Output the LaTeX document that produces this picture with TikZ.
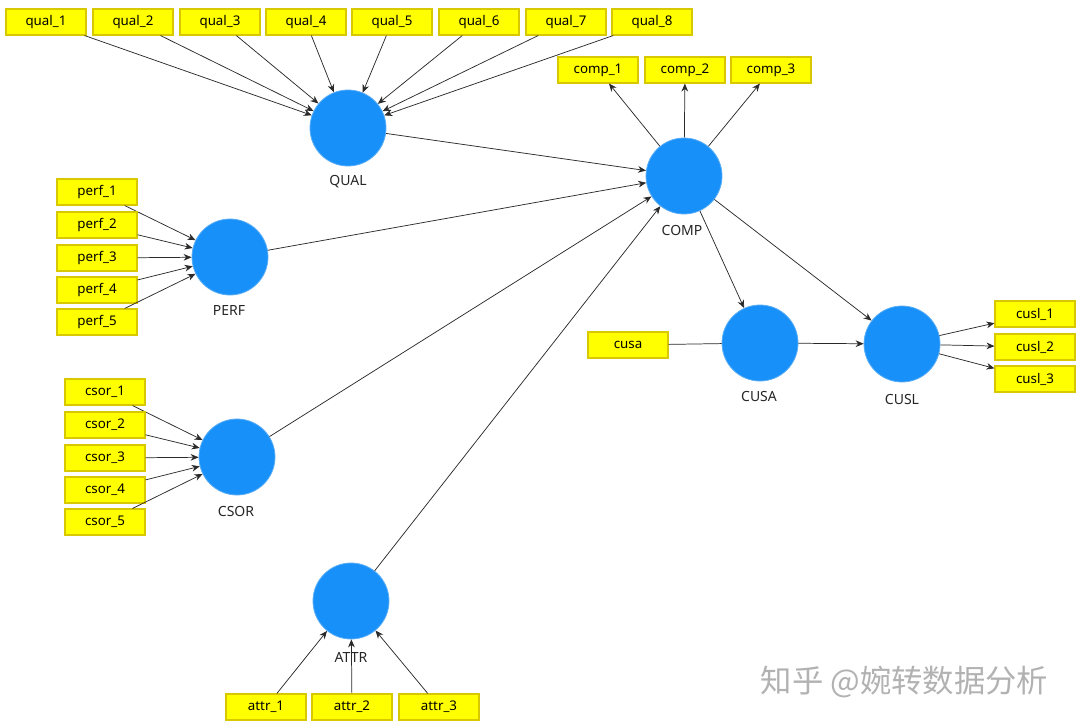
\documentclass[tikz,border=0pt]{standalone}
\usepackage{fontspec}
\setmainfont{Noto Sans}
\newfontfamily\cjkfont{Noto Sans CJK SC}
\usetikzlibrary{arrows.meta}
\definecolor{boxfill}{HTML}{FFFF00}
\definecolor{boxline}{HTML}{D8C800}
\definecolor{lvfill}{HTML}{1890FA}
\definecolor{lvline}{HTML}{5AAEF5}
\definecolor{edge}{HTML}{2A2A2A}
\tikzset{
  ind/.style={draw=boxline, fill=boxfill, line width=0.8pt, minimum width=60pt, minimum height=19.5pt, inner sep=0pt, font=\fontsize{10}{12}\selectfont},
  lv/.style={circle, draw=lvline, fill=lvfill, line width=0.6pt, minimum size=57pt, inner sep=0pt},
  lvlab/.style={font=\fontsize{10.5}{12}\selectfont, text=black!85},
  arr/.style={draw=edge, line width=0.55pt, -{Stealth[length=6pt,width=5pt]}},
  plain/.style={draw=edge, line width=0.55pt}
}
\begin{document}
\begin{tikzpicture}[x=0.75pt,y=-0.75pt]
\useasboundingbox (0,0) rectangle (1080,725);
\fill[white] (0,0) rectangle (1080,725);
% latent variables
\node[lv] (QUAL) at (348,128) {};
\node[lvlab] (QUALl) at (348,182) {QUAL};
\node[lv] (COMP) at (684,176) {};
\node[lvlab] (COMPl) at (682,230) {COMP};
\node[lv] (PERF) at (230,257) {};
\node[lvlab] (PERFl) at (229,310) {PERF};
\node[lv] (CSOR) at (237,457) {};
\node[lvlab] (CSORl) at (236,511) {CSOR};
\node[lv] (ATTR) at (351,601) {};
\node[lvlab] (ATTRl) at (351,657) {ATTR};
\node[lv] (CUSA) at (760,343) {};
\node[lvlab] (CUSAl) at (759,396) {CUSA};
\node[lv] (CUSL) at (902,344) {};
\node[lvlab] (CUSLl) at (902,399) {CUSL};
% indicators
\foreach \i/\x in {1/46,2/133,3/220,4/306,5/392,6/479,7/566,8/652}{
  \node[ind] (qual\i) at (\x,22) {qual\_\i};
  \draw[arr] (qual\i) -- (QUAL);
}
\foreach \i/\x in {1/598,2/685,3/771}{
  \node[ind] (comp\i) at (\x,70) {comp\_\i};
  \draw[arr] (COMP) -- (comp\i);
}
\foreach \i/\y in {1/192,2/225,3/258,4/290,5/322}{
  \node[ind] (perf\i) at (97,\y) {perf\_\i};
  \draw[arr] (perf\i) -- (PERF);
}
\foreach \i/\y in {1/392,2/425,3/458,4/490,5/522}{
  \node[ind] (csor\i) at (105,\y) {csor\_\i};
  \draw[arr] (csor\i) -- (CSOR);
}
\foreach \i/\x in {1/266,2/352,3/439}{
  \node[ind] (attr\i) at (\x,707) {attr\_\i};
  \draw[arr] (attr\i) -- (ATTR);
}
\foreach \i/\y in {1/314,2/347,3/379}{
  \node[ind] (cusl\i) at (1035,\y) {cusl\_\i};
  \draw[arr] (CUSL) -- (cusl\i);
}
\node[ind] (cusa) at (628,345) {cusa};
\draw[plain] (cusa) -- (CUSA);
% structural paths
\draw[arr] (QUAL) -- (COMP);
\draw[arr] (PERF) -- (COMP);
\draw[arr] (CSOR) -- (COMP);
\draw[arr] (ATTR) -- (COMP);
\draw[arr] (COMP) -- (CUSA);
\draw[arr] (COMP) -- (CUSL);
\draw[arr] (CUSA) -- (CUSL);
% watermark
\node[text=black!30, font=\cjkfont\fontsize{23.5}{25}\selectfont, anchor=west] (wm) at (756,682) {知乎 @婉转数据分析};
\end{tikzpicture}
\end{document}
